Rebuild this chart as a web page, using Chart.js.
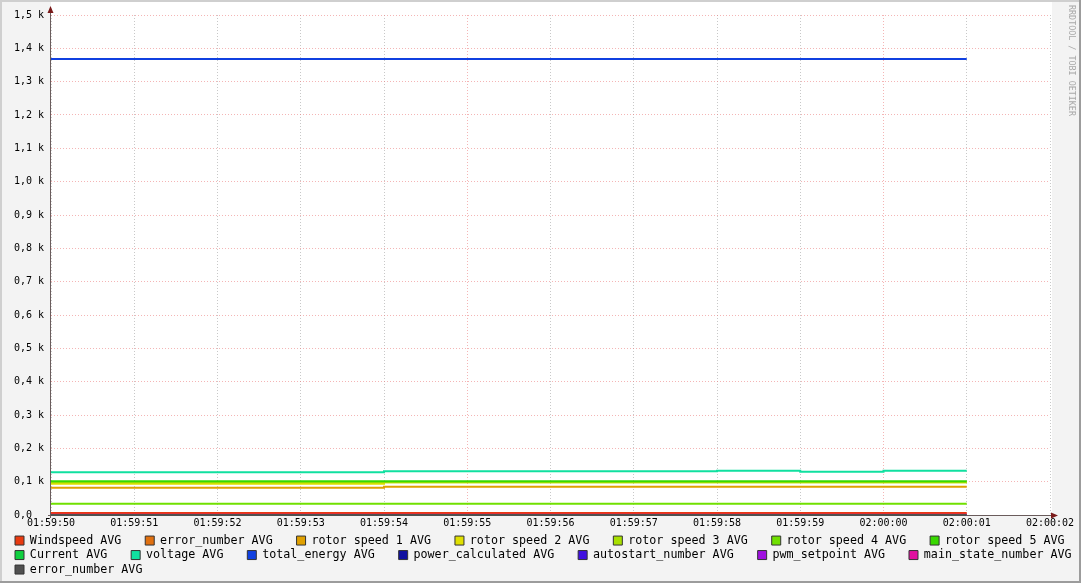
<!DOCTYPE html>
<html>
<head>
<meta charset="utf-8">
<script src="https://cdn.jsdelivr.net/npm/chart.js@4.4.1/dist/chart.umd.min.js"></script>
<style>
html, body { margin: 0; padding: 0; background: #f3f3f3; }
#wrap { width: 1081px; height: 583px; }
</style>
</head>
<body>
<div id="wrap"><canvas id="rrd_graph" width="1081" height="583"></canvas></div>
<script>
// time axis, one tick per second
var tickLabels = ["01:59:50", "01:59:51", "01:59:52", "01:59:53", "01:59:54", "01:59:55",
                  "01:59:56", "01:59:57", "01:59:58", "01:59:59", "02:00:00", "02:00:01", "02:00:02"];
var majorTicks = [5, 10];
var seconds = [0, 1, 2, 3, 4, 5, 6, 7, 8, 9, 10, 11];

var seriesNames = ["Windspeed AVG", "error_number AVG", "rotor speed 1 AVG", "rotor speed 2 AVG",
                   "rotor speed 3 AVG", "rotor speed 4 AVG", "rotor speed 5 AVG", "Current AVG",
                   "voltage AVG", "total_energy AVG", "power_calculated AVG", "autostart_number AVG",
                   "pwm_setpoint AVG", "main_state_number AVG", "error_number AVG"];
var seriesColors = ["#e83a10", "#e07010", "#e0a000", "#e0e000", "#a8e000", "#70e000", "#38d800",
                    "#10d040", "#10e0a0", "#1040e0", "#1010a0", "#4010e0", "#a010e0", "#e010a0", "#505050"];

var windspeed       = [6, 6, 6, 6, 6, 6, 6, 6, 6, 6, 6, 6];
var errorNumber     = [0, 0, 0, 0, 0, 0, 0, 0, 0, 0, 0, 0];
var rotorSpeed1     = [82, 82, 82, 82, 85, 85, 85, 85, 85, 85, 85, 85];
var rotorSpeed2     = [94, 94, 94, 94, 98, 98, 98, 98, 98, 98, 98, 98];
var rotorSpeed3     = [98, 98, 98, 98, 98, 98, 98, 98, 98, 98, 98, 98];
var rotorSpeed4     = [34, 34, 34, 34, 34, 34, 34, 34, 34, 34, 34, 34];
var rotorSpeed5     = [101, 101, 101, 101, 101, 101, 101, 101, 101, 101, 101, 101];
var current         = [0, 0, 0, 0, 0, 0, 0, 0, 0, 0, 0, 0];
var voltage         = [128, 128, 128, 128, 131, 131, 131, 131, 133, 130, 133, 133];
var totalEnergy     = [1368, 1368, 1368, 1368, 1368, 1368, 1368, 1368, 1368, 1368, 1368, 1368];
var powerCalculated = [0, 0, 0, 0, 0, 0, 0, 0, 0, 0, 0, 0];
var autostartNumber = [0, 0, 0, 0, 0, 0, 0, 0, 0, 0, 0, 0];
var pwmSetpoint     = [0, 0, 0, 0, 0, 0, 0, 0, 0, 0, 0, 0];
var mainStateNumber = [1, 1, 1, 1, 1, 1, 1, 1, 1, 1, 1, 1];
var errorNumber2    = [0, 0, 0, 0, 0, 0, 0, 0, 0, 0, 0, 0];

var seriesData = [windspeed, errorNumber, rotorSpeed1, rotorSpeed2, rotorSpeed3, rotorSpeed4,
                  rotorSpeed5, current, voltage, totalEnergy, powerCalculated, autostartNumber,
                  pwmSetpoint, mainStateNumber, errorNumber2];

// legend entries that close a row get no trailing gap
var rowEnds = ["rotor speed 5 AVG", "main_state_number AVG"];

var monoFont = "'DejaVu Sans Mono', 'Liberation Mono', monospace";
var pinkGrid = "rgba(235, 120, 120, 0.55)";
var grayGrid = "#c8c8c8";

function yLabel(v) {
    // rrdtool prints the zero line without the unit, padded to the same width
    if (v === 0) return "0,0  ";
    return (v / 1000).toFixed(1).replace(".", ",") + " k";
}

var datasets = [];
for (var i = 0; i < seriesNames.length; i++) {
    var pts = [];
    for (var j = 0; j < seconds.length; j++) {
        pts.push({ x: seconds[j], y: seriesData[i][j] });
    }
    datasets.push({
        label: seriesNames[i],
        data: pts,
        borderColor: seriesColors[i],
        backgroundColor: seriesColors[i],
        borderWidth: 2,
        pointRadius: 0,
        stepped: true,
        fill: false,
        clip: 2,
        order: -i
    });
}

var rrdDecor = {
    id: "rrdDecor",
    afterLayout: function(chart) {
        chart.legend.top += 2.4;
        chart.legend.bottom += 2.4;
    },
    beforeDraw: function(chart) {
        var c = chart.ctx, a = chart.chartArea;
        c.save();
        c.fillStyle = "#f3f3f3";
        c.fillRect(0, 0, chart.width, chart.height);
        c.fillStyle = "#ffffff";
        c.fillRect(a.left, 2, a.right - a.left + 2, a.bottom - 2);
        c.restore();
    },
    beforeDatasetsDraw: function(chart) {
        var c = chart.ctx, a = chart.chartArea;
        c.save();
        c.strokeStyle = "#6a5c5c";
        c.lineWidth = 1;
        c.beginPath();
        c.moveTo(a.left - 0.5, a.bottom + 3);
        c.lineTo(a.left - 0.5, 10);
        c.moveTo(a.left - 3, a.bottom + 0.5);
        c.lineTo(a.right + 4, a.bottom + 0.5);
        c.stroke();
        c.fillStyle = "#7a1a1a";
        c.beginPath();
        c.moveTo(a.left - 0.5, 6);
        c.lineTo(a.left - 3.5, 13);
        c.lineTo(a.left + 2.5, 13);
        c.closePath();
        c.fill();
        c.beginPath();
        c.moveTo(a.right + 8, a.bottom + 0.5);
        c.lineTo(a.right + 1, a.bottom - 2.5);
        c.lineTo(a.right + 1, a.bottom + 3.5);
        c.closePath();
        c.fill();
        c.restore();
    },
    afterDraw: function(chart) {
        var c = chart.ctx, w = chart.width, h = chart.height;
        c.save();
        // watermark
        c.translate(1071, 5);
        c.rotate(Math.PI / 2);
        c.fillStyle = "#a8a8a8";
        c.font = "8.4px " + monoFont;
        c.textBaseline = "middle";
        c.fillText("RRDTOOL / TOBI OETIKER", 0, 0);
        c.restore();
        // 3d frame
        c.save();
        c.fillStyle = "#cfcfcf";
        c.fillRect(0, 0, w, 2);
        c.fillRect(0, 0, 2, h);
        c.fillStyle = "#9c9c9c";
        c.fillRect(w - 2, 0, 2, h);
        c.fillRect(0, h - 2, w, 2);
        c.restore();
    }
};

var ctx = document.getElementById("rrd_graph");

var chart = new Chart(ctx, {
    type: "line",
    data: { datasets: datasets },
    options: {
        responsive: false,
        animation: false,
        devicePixelRatio: 1,
        layout: { padding: { left: 12.2, right: 0, top: 15, bottom: 0 } },
        scales: {
            x: {
                type: "linear",
                min: 0,
                max: 12,
                afterFit: function(s) { s.height = 14.5; },
                ticks: {
                    stepSize: 1,
                    autoSkip: false,
                    maxRotation: 0,
                    padding: 2,
                    color: "#000",
                    font: { family: monoFont, size: 10 },
                    callback: function(v) { return tickLabels[v]; }
                },
                grid: {
                    drawTicks: false,
                    color: function(c) {
                        return (c.tick && majorTicks.indexOf(c.tick.value) >= 0) ? pinkGrid : grayGrid;
                    }
                },
                border: { display: false, dash: [1, 2] }
            },
            y: {
                type: "linear",
                min: 0,
                max: 1500,
                afterFit: function(s) { s.width = 38.8; },
                ticks: {
                    stepSize: 100,
                    padding: 7,
                    color: "#000",
                    font: { family: monoFont, size: 10 },
                    callback: function(v) { return yLabel(v); }
                },
                grid: { drawTicks: false, color: pinkGrid },
                border: { display: false, dash: [1, 2] }
            },
            yr: {
                type: "linear",
                position: "right",
                afterFit: function(s) { s.width = 31; },
                grid: { display: false },
                ticks: { display: false },
                border: { display: false }
            }
        },
        plugins: {
            tooltip: { enabled: false },
            legend: {
                position: "bottom",
                align: "start",
                labels: {
                    boxWidth: 9,
                    boxHeight: 9,
                    padding: 2.8,
                    color: "#000",
                    font: { family: monoFont, size: 11.7 },
                    sort: function(a, b) { return a.datasetIndex - b.datasetIndex; },
                    generateLabels: function(chart) {
                        var items = Chart.defaults.plugins.legend.labels.generateLabels(chart);
                        items.forEach(function(item) {
                            if (rowEnds.indexOf(item.text) < 0) item.text = item.text + "   ";
                            item.strokeStyle = "#333";
                            item.lineWidth = 1;
                        });
                        return items;
                    }
                }
            }
        }
    },
    plugins: [rrdDecor]
});
</script>
</body>
</html>
